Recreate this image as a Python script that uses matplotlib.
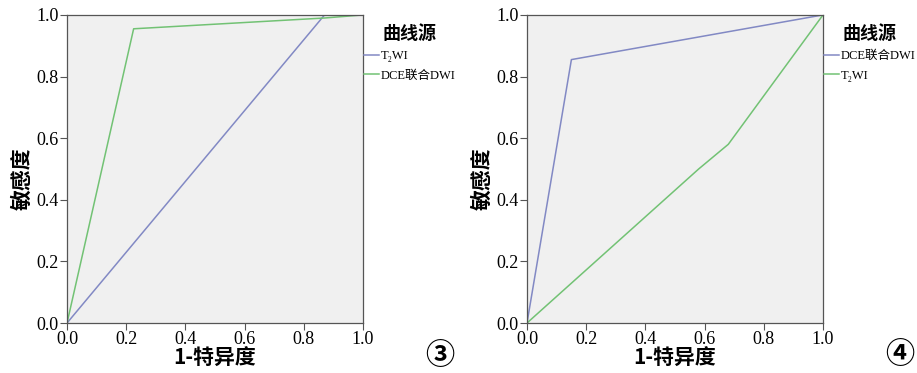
import matplotlib
matplotlib.use("Agg")
import matplotlib.pyplot as plt

plt.rcParams['font.family'] = ['Noto Sans CJK SC', 'DejaVu Sans']

# ROC data
fpr_t2_3 = [0.0, 0.87, 1.0]
tpr_t2_3 = [0.0, 1.0, 1.0]
fpr_dce_3 = [0.0, 0.225, 0.87, 1.0]
tpr_dce_3 = [0.0, 0.955, 0.99, 1.0]

fpr_dce_4 = [0.0, 0.15, 1.0]
tpr_dce_4 = [0.0, 0.855, 1.0]
fpr_t2_4 = [0.0, 0.58, 0.68, 1.0]
tpr_t2_4 = [0.0, 0.50, 0.58, 1.0]

ticks = [0.0, 0.2, 0.4, 0.6, 0.8, 1.0]
tick_labels = ["0.0", "0.2", "0.4", "0.6", "0.8", "1.0"]

blue = '#8289c4'
green = '#72c274'

fig = plt.figure(figsize=(9.17, 3.73), dpi=100)
ax1 = fig.add_axes([0.0731, 0.134, 0.3228, 0.826])
ax2 = fig.add_axes([0.5747, 0.134, 0.3228, 0.826])


def setup(ax):
    ax.set_facecolor('#f0f0f0')
    ax.set_xlim(0, 1)
    ax.set_ylim(0, 1)
    ax.set_xticks(ticks)
    ax.set_yticks(ticks)
    ax.set_xticklabels(tick_labels, family='Liberation Serif', fontsize=13)
    ax.set_yticklabels(tick_labels, family='Liberation Serif', fontsize=13)
    ax.tick_params(direction='out', length=5, width=0.8, color='#555555', pad=1)
    for s in ax.spines.values():
        s.set_color('#555555')
        s.set_linewidth(0.9)
    ax.set_xlabel("1-特异度", fontsize=15, fontweight='bold', labelpad=0)
    ax.set_ylabel("敏感度", fontsize=15, fontweight='bold')
    ax.yaxis.set_label_coords(-0.115, 0.47)


setup(ax1)
ax1.plot(fpr_t2_3, tpr_t2_3, color=blue, lw=1.1, label="T\u2082WI")
ax1.plot(fpr_dce_3, tpr_dce_3, color=green, lw=1.1, label="DCE联合DWI")

setup(ax2)
ax2.plot(fpr_dce_4, tpr_dce_4, color=blue, lw=1.1, label="DCE联合DWI")
ax2.plot(fpr_t2_4, tpr_t2_4, color=green, lw=1.1, label="T\u2082WI")

for ax in (ax1, ax2):
    leg = ax.legend(loc='upper left', bbox_to_anchor=(1.0, 0.975), frameon=False,
                    title="曲线源", handlelength=1.2, handletextpad=0.1,
                    borderaxespad=0.0, borderpad=0.1, labelspacing=0.6,
                    prop={'family': ['Liberation Serif', 'Noto Sans CJK SC'], 'size': 9})
    leg.get_title().set_fontsize(13)
    leg.get_title().set_fontweight('bold')

fig.text(0.48, 0.048, "③", fontsize=21, fontweight='bold', ha='center', va='center')
fig.text(0.981, 0.052, "④", fontsize=21, fontweight='bold', ha='center', va='center')

fig.savefig("out.png", dpi=100)
